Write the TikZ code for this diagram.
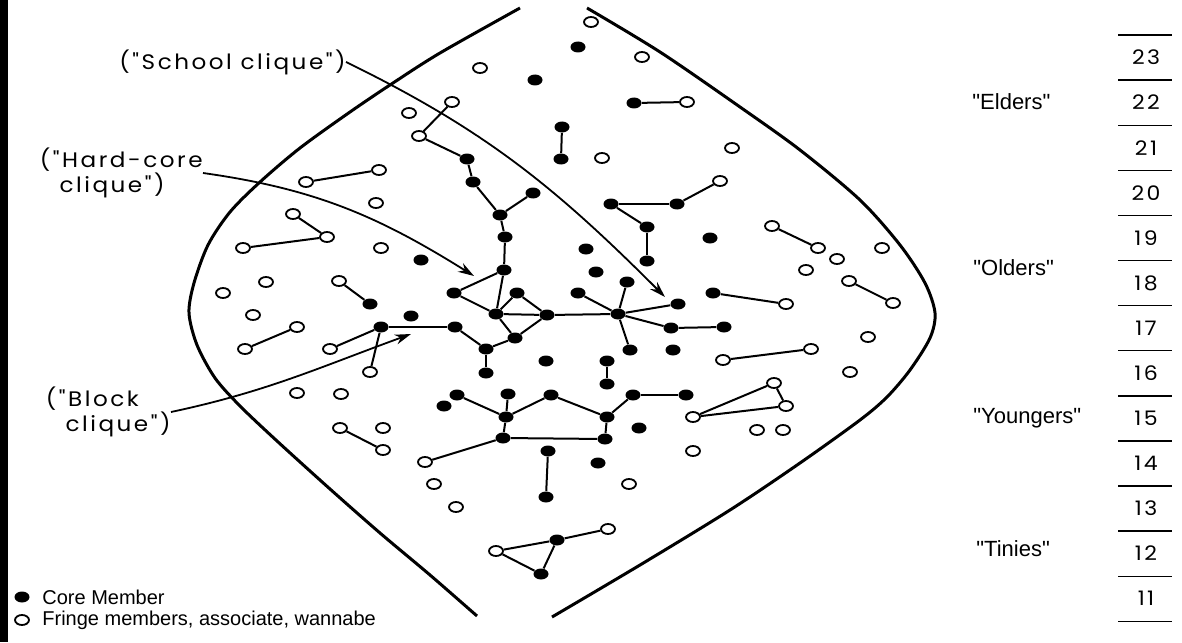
\documentclass[tikz,border=0pt]{standalone}
\usepackage{fontspec}
\setmainfont{Liberation Sans}[Ligatures=TeXOff]
\newfontfamily\leroy[LetterSpace=12,FakeStretch=1.1,Ligatures=TeXOff]{Poppins}
\usetikzlibrary{shapes.geometric,arrows.meta}

\tikzset{
  core/.style={ellipse, fill=black, inner sep=0pt, minimum width=7.5pt, minimum height=5.5pt},
  fringe/.style={ellipse, draw, line width=0.9pt, fill=white, inner sep=0pt, minimum width=7pt, minimum height=5pt},
  tie/.style={line width=1pt},
  lens/.style={line width=1.5pt},
  clqarrow/.style={line width=0.9pt, -{Stealth[length=8pt,width=5pt]}},
  cliquelabel/.style={font=\leroy\fontsize{10.5}{12.5}\selectfont, align=left, inner sep=0pt},
  agelabel/.style={font=\fontsize{11}{13}\selectfont, anchor=west, inner sep=0pt},
  keylabel/.style={font=\fontsize{10}{12}\selectfont, anchor=west, inner sep=0pt},
  agenum/.style={font=\leroy\fontsize{10}{12}\selectfont, inner sep=0pt},
  rung/.style={line width=0.7pt}
}

\begin{document}
\begin{tikzpicture}[x=0.5pt,y=-0.5pt]
  \useasboundingbox (0,0) rectangle (1182,642);

  % left margin strip
  \fill (0,0) rectangle (8,642);

  % the lens
  \draw[lens] plot[smooth] coordinates {(520,8) (440,53) (393,83) (350,112) (300,148) (260,182)
    (230,212) (208,245) (194,283) (189,313) (197,345) (215,378) (240,406) (277,441) (330,489)
    (380,533) (430,575) (477,616)};
  \draw[lens] plot[smooth] coordinates {(587,8) (660,52) (740,107) (800,150) (860,200) (900,245)
    (925,283) (935,313) (930,338) (910,370) (887,397) (860,420) (800,463) (730,510) (640,565)
    (552,617)};

  % core members
  \foreach \name/\x/\y in {c1/578/47, c2/535/80, c3/634/103, c4/562/127, c5/561/159,
      c6/467/159, c7/473/182, c8/533/193, c9/500/215, c10/505/237, c11/504/270,
      c12/611/204, c13/677/204, c14/647/227, c15/647/261, c16/710/238, c17/586/249,
      c18/596/272, c19/421/260, c20/370/304, c21/411/316, c22/381/327, c23/455/327,
      c24/454/293, c25/517/293, c26/496/314, c27/547/315, c28/515/338, c29/486/349,
      c30/486/373, c31/578/293, c32/627/282, c33/618/314, c34/678/304, c35/713/293,
      c36/671/328, c37/724/327, c38/630/350, c39/673/350, c40/546/361, c41/607/361,
      c42/607/384, c43/457/395, c44/444/406, c45/508/394, c46/551/395, c47/633/395,
      c48/686/395, c49/506/417, c50/607/417, c51/639/428, c52/503/438, c53/605/439,
      c54/548/451, c55/546/497, c56/598/463, c57/557/540, c58/541/574}
    \node[core] (\name) at (\x,\y) {};

  % fringe members
  \foreach \name/\x/\y in {f1/591/22, f2/642/57, f3/480/68, f4/452/102, f5/687/102,
      f6/409/113, f7/419/136, f8/602/158, f9/732/148, f10/720/181, f11/306/182,
      f12/379/170, f13/376/203, f14/293/214, f15/327/237, f16/243/248, f17/381/248,
      f18/266/282, f19/223/293, f20/339/281, f21/253/315, f22/297/327, f23/245/349,
      f24/330/349, f25/370/372, f26/297/393, f27/341/394, f28/340/428, f29/383/428,
      f30/383/450, f31/425/462, f32/434/484, f33/456/507, f34/629/484, f35/608/529,
      f36/496/551, f37/693/417, f38/693/451, f39/757/430, f40/783/430, f41/774/383,
      f42/786/406, f43/723/360, f44/811/349, f45/850/372, f46/868/337, f47/786/304,
      f48/849/281, f49/893/303, f50/806/270, f51/837/259, f52/818/248, f53/772/226,
      f54/882/248}
    \node[fringe] (\name) at (\x,\y) {};

  % ties
  \foreach \a/\b in {f4/f7, f7/c6, c6/c7, c7/c9, c9/c8, c9/c10, c10/c11, c3/f5, c4/c5,
      f11/f12, c12/c13, c13/f10, c12/c14, c14/c15, f14/f15, f16/f15, f20/c20, f22/f23,
      c22/c23, c22/f24, c22/f25, c24/c11, c11/c26, c24/c26, c26/c25, c25/c27, c26/c27,
      c26/c28, c28/c27, c23/c29, c29/c28, c29/c30, c27/c33, c31/c33, c32/c33, c34/c33,
      c33/c36, c36/c37, c33/c38, c41/c42, c35/f47, f53/f52, f48/f49, f43/f44, f37/f41,
      f37/f42, f41/f42, c43/c49, c45/c49, c49/c46, c46/c50, c50/c47, c47/c48, c49/c52,
      c50/c53, c52/c53, c52/f31, c54/c55, c57/f35, c57/f36, f36/c58, c57/c58, f28/f30}
    \draw[tie] (\a) -- (\b);

  % clique labels and arrows
  \node[cliquelabel, anchor=east] (school) at (346,62) {("School clique")};
  \node[cliquelabel, anchor=east] (hardcore) at (203,173) {("Hard-core\\\phantom{("}clique")};
  \node[cliquelabel, anchor=east] (block) at (171,412) {("Block\\\phantom{("}clique")};
  \coordinate (schooltip) at (665,297);
  \coordinate (hardtip) at (474,276);
  \coordinate (blocktip) at (411,334);
  \draw[clqarrow] (school.east) to[out=-26,in=135] (schooltip);
  \draw[clqarrow] (hardcore.east) to[out=-8,in=148] (hardtip);
  \draw[clqarrow] (block.east) to[out=12,in=200] (blocktip);

  % age groups
  \node[agelabel] (elders) at (972,102) {"Elders"};
  \node[agelabel] (olders) at (973,268) {"Olders"};
  \node[agelabel] (youngers) at (973,418) {"Youngers"};
  \node[agelabel] (tinies) at (976,549) {"Tinies"};

  % age scale
  \foreach \k in {0,...,13}
    \draw[rung] (1118,{35+45.1*\k}) -- (1172,{35+45.1*\k});
  \foreach \n [count=\k from 0] in {23,22,...,11}
    \node[agenum] (age\n) at (1146,{57.5+45.1*\k}) {\n};

  % key
  \node[core] (keycore) at (22,597) {};
  \node[keylabel] (keycoretext) at (42,597) {Core Member};
  \node[fringe] (keyfringe) at (22,620) {};
  \node[keylabel] (keyfringetext) at (42,620) {Fringe members, associate, wannabe};
\end{tikzpicture}
\end{document}
